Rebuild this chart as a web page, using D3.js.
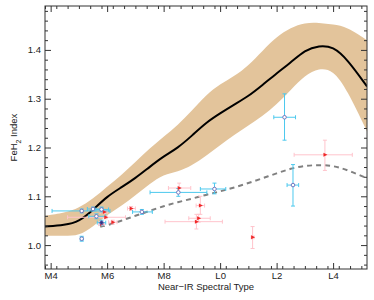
<!DOCTYPE html>
<html>
<head>
<meta charset="utf-8">
<script src="https://cdn.jsdelivr.net/npm/d3@7"></script>
<style>
  body { margin: 0; background: #fff; }
  text { font-family: "Liberation Sans", Arial, sans-serif; }
</style>
</head>
<body>
<div class="chart"></div>
<script>
var svgWidth = 374;
var svgHeight = 300;

var margin = { top: 6, right: 7, bottom: 31, left: 45 };
var width = svgWidth - margin.left - margin.right;
var height = svgHeight - margin.top - margin.bottom;

// spectral type: M4 = 4 ... L0 = 10 ... L4 = 14
var majorTypes = [4, 6, 8, 10, 12, 14];
var majorLabels = ["M4", "M6", "M8", "L0", "L2", "L4"];
var yTicks = [1.0, 1.1, 1.2, 1.3, 1.4];

// median relation and spread (band)
var bandX     = [3.8, 4.5, 5.0, 5.5, 6.0, 6.5, 7.0, 7.5, 8.0, 8.5, 9.0, 9.5, 10.0, 10.5, 11.0, 11.5, 12.0, 12.5, 13.0, 13.5, 14.0, 14.5, 15.2];
var bandMid   = [1.038, 1.041, 1.048, 1.072, 1.100, 1.118, 1.137, 1.160, 1.182, 1.199, 1.224, 1.251, 1.270, 1.288, 1.305, 1.328, 1.352, 1.374, 1.400, 1.409, 1.407, 1.381, 1.325];
var bandUpper = [1.060, 1.066, 1.076, 1.095, 1.120, 1.143, 1.170, 1.198, 1.222, 1.246, 1.275, 1.308, 1.330, 1.346, 1.368, 1.398, 1.427, 1.446, 1.456, 1.456, 1.452, 1.447, 1.420];
var bandLower = [1.019, 1.019, 1.019, 1.038, 1.062, 1.080, 1.102, 1.125, 1.145, 1.150, 1.163, 1.183, 1.205, 1.226, 1.245, 1.264, 1.288, 1.318, 1.348, 1.363, 1.359, 1.318, 1.233];

// dashed relation
var dashX = [5.75, 6.0, 6.5, 7.0, 7.5, 8.0, 8.5, 9.0, 9.5, 10.0, 10.5, 11.0, 11.5, 12.0, 12.5, 13.0, 13.5, 14.0, 14.5, 15.2];
var dashY = [1.038, 1.040, 1.050, 1.060, 1.070, 1.080, 1.088, 1.095, 1.103, 1.110, 1.118, 1.127, 1.137, 1.147, 1.157, 1.163, 1.164, 1.163, 1.154, 1.137];

// open circles (cyan error bars): type, index, type range, index range
var cyanSpt   = [5.1, 5.5, 5.8, 5.62, 5.8, 5.1, 7.23, 8.52, 9.8, 12.28, 12.58];
var cyanVal   = [1.070, 1.074, 1.073, 1.059, 1.046, 1.013, 1.068, 1.108, 1.115, 1.262, 1.123];
var cyanSptLo = [4.05, 5.3, 5.6, 5.35, 5.65, 5.05, 6.9, 7.52, 9.3, 11.9, 12.37];
var cyanSptHi = [6.1, 5.85, 6.05, 5.95, 5.95, 5.15, 7.6, 9.53, 10.2, 12.67, 12.78];
var cyanValLo = [1.066, 1.070, 1.068, 1.054, 1.041, 1.008, 1.063, 1.100, 1.105, 1.215, 1.080];
var cyanValHi = [1.074, 1.078, 1.078, 1.064, 1.051, 1.018, 1.073, 1.116, 1.127, 1.310, 1.165];
var cyanFilled = [0, 0, 0, 0, 1, 0, 0, 0, 0, 0, 0];

// red triangles (pink error bars)
var redSpt   = [8.55, 9.3, 9.24, 9.16, 6.85, 6.2, 5.95, 5.8, 5.9, 11.15, 13.71];
var redVal   = [1.117, 1.081, 1.055, 1.048, 1.075, 1.047, 1.057, 1.043, 1.068, 1.016, 1.185];
var redSptLo = [8.17, 9.15, 8.89, 8.05, 6.72, 6.05, 4.6, 5.7, 5.75, 11.1, 12.62];
var redSptHi = [8.96, 9.45, 9.65, 10.08, 7.0, 6.35, 6.65, 5.9, 6.0, 11.2, 14.68];
var redValLo = [1.108, 1.063, 1.047, 1.033, 1.071, 1.043, 1.054, 1.040, 1.065, 0.993, 1.153];
var redValHi = [1.127, 1.100, 1.063, 1.063, 1.079, 1.051, 1.060, 1.046, 1.071, 1.038, 1.215];

var svg = d3.select(".chart")
  .append("svg")
  .attr("width", svgWidth)
  .attr("height", svgHeight);

var chartGroup = svg.append("g")
  .attr("transform", `translate(${margin.left}, ${margin.top})`);

var xScale = d3.scaleLinear().domain([3.8, 15.2]).range([0, width]);
var yScale = d3.scaleLinear().domain([0.951, 1.49]).range([height, 0]);

chartGroup.append("clipPath").attr("id", "clip")
  .append("rect").attr("width", width).attr("height", height);

var plot = chartGroup.append("g").attr("clip-path", "url(#clip)");

// band
var band = bandX.map((d, i) => ({ x: d, lo: bandLower[i], hi: bandUpper[i], mid: bandMid[i] }));
plot.append("path")
  .datum(band)
  .attr("fill", "#e3c49b")
  .attr("d", d3.area()
    .curve(d3.curveBasis)
    .x(d => xScale(d.x))
    .y0(d => yScale(d.lo))
    .y1(d => yScale(d.hi)));

plot.append("path")
  .datum(band)
  .attr("fill", "none")
  .attr("stroke", "#000")
  .attr("stroke-width", 2)
  .attr("d", d3.line()
    .curve(d3.curveBasis)
    .x(d => xScale(d.x))
    .y(d => yScale(d.mid)));

// dashed relation
var dashData = dashX.map((d, i) => ({ x: d, y: dashY[i] }));
plot.append("path")
  .datum(dashData)
  .attr("fill", "none")
  .attr("stroke", "#808080")
  .attr("stroke-width", 2)
  .attr("stroke-dasharray", "5,4")
  .attr("d", d3.line()
    .curve(d3.curveBasis)
    .x(d => xScale(d.x))
    .y(d => yScale(d.y)));

// error bars
function drawErrors(group, spt, val, sLo, sHi, vLo, vHi, color) {
  var data = spt.map((d, i) => ({ x: d, y: val[i], x0: sLo[i], x1: sHi[i], y0: vLo[i], y1: vHi[i] }));
  var g = group.append("g").attr("stroke", color).attr("stroke-width", 1);
  g.selectAll(".hbar").data(data).enter().append("line")
    .attr("x1", d => xScale(d.x0)).attr("x2", d => xScale(d.x1))
    .attr("y1", d => yScale(d.y)).attr("y2", d => yScale(d.y));
  g.selectAll(".vbar").data(data).enter().append("line")
    .attr("x1", d => xScale(d.x)).attr("x2", d => xScale(d.x))
    .attr("y1", d => yScale(d.y0)).attr("y2", d => yScale(d.y1));
  // caps
  g.selectAll(".hcap").data(data.flatMap(d => [{ x: d.x0, y: d.y }, { x: d.x1, y: d.y }])).enter().append("line")
    .attr("x1", d => xScale(d.x)).attr("x2", d => xScale(d.x))
    .attr("y1", d => yScale(d.y) - 2).attr("y2", d => yScale(d.y) + 2);
  g.selectAll(".vcap").data(data.flatMap(d => [{ x: d.x, y: d.y0 }, { x: d.x, y: d.y1 }])).enter().append("line")
    .attr("x1", d => xScale(d.x) - 2).attr("x2", d => xScale(d.x) + 2)
    .attr("y1", d => yScale(d.y)).attr("y2", d => yScale(d.y));
  return data;
}

var redData = drawErrors(plot, redSpt, redVal, redSptLo, redSptHi, redValLo, redValHi, "#ffc4cc");
var cyanData = drawErrors(plot, cyanSpt, cyanVal, cyanSptLo, cyanSptHi, cyanValLo, cyanValHi, "#4cc9ee");

plot.selectAll(".tri").data(redData).enter().append("path")
  .attr("transform", d => `translate(${xScale(d.x)}, ${yScale(d.y)})`)
  .attr("d", "M-1.5,-2L2.5,0L-1.5,2Z")
  .attr("fill", "#f02828");

plot.selectAll(".dot").data(cyanData).enter().append("circle")
  .attr("cx", d => xScale(d.x))
  .attr("cy", d => yScale(d.y))
  .attr("r", 1.8)
  .attr("fill", (d, i) => cyanFilled[i] ? "#303080" : "#fff")
  .attr("stroke", "#6a6ab8")
  .attr("stroke-width", 0.9);

// axes with inward ticks on all sides
var xMinor = d3.range(3.8, 15.21, 0.4).map(d => +d.toFixed(2)).filter(d => majorTypes.indexOf(d) < 0);
var yMinor = d3.range(0.96, 1.49, 0.02).map(d => +d.toFixed(2)).filter(d => yTicks.indexOf(d) < 0);

function styleAxis(g) {
  g.select(".domain").remove();
  g.selectAll("line").attr("stroke", "#333");
  g.selectAll("text").attr("fill", "#222").style("font-size", "9.5px");
}

chartGroup.append("g").attr("transform", `translate(0, ${height})`)
  .call(d3.axisBottom(xScale).tickValues(majorTypes).tickSize(-6).tickPadding(3)
    .tickFormat((d, i) => majorLabels[i])).call(styleAxis);
chartGroup.append("g").attr("transform", `translate(0, ${height})`)
  .call(d3.axisBottom(xScale).tickValues(xMinor).tickSize(-3).tickFormat("")).call(styleAxis);
chartGroup.append("g")
  .call(d3.axisTop(xScale).tickValues(majorTypes).tickSize(-6).tickFormat("")).call(styleAxis);
chartGroup.append("g")
  .call(d3.axisTop(xScale).tickValues(xMinor).tickSize(-3).tickFormat("")).call(styleAxis);

chartGroup.append("g")
  .call(d3.axisLeft(yScale).tickValues(yTicks).tickSize(-6).tickPadding(4)
    .tickFormat(d3.format(".1f"))).call(styleAxis);
chartGroup.append("g")
  .call(d3.axisLeft(yScale).tickValues(yMinor).tickSize(-3).tickFormat("")).call(styleAxis);
chartGroup.append("g").attr("transform", `translate(${width}, 0)`)
  .call(d3.axisRight(yScale).tickValues(yTicks).tickSize(-6).tickFormat("")).call(styleAxis);
chartGroup.append("g").attr("transform", `translate(${width}, 0)`)
  .call(d3.axisRight(yScale).tickValues(yMinor).tickSize(-3).tickFormat("")).call(styleAxis);

// frame
chartGroup.append("rect")
  .attr("width", width).attr("height", height)
  .attr("fill", "none").attr("stroke", "#333").attr("stroke-width", 1);

// axis titles
chartGroup.append("text")
  .attr("x", width / 2)
  .attr("y", height + 21)
  .attr("text-anchor", "middle")
  .attr("fill", "#222")
  .style("font-size", "9.5px")
  .text("Near\u2212IR Spectral Type");

var yTitle = chartGroup.append("text")
  .attr("transform", `translate(${-28}, ${height / 2}) rotate(-90)`)
  .attr("text-anchor", "middle")
  .attr("fill", "#222")
  .style("font-size", "9.5px");
yTitle.append("tspan").text("FeH");
yTitle.append("tspan").attr("baseline-shift", "sub").style("font-size", "7px").text("2");
yTitle.append("tspan").text(" Index");
</script>
</body>
</html>
